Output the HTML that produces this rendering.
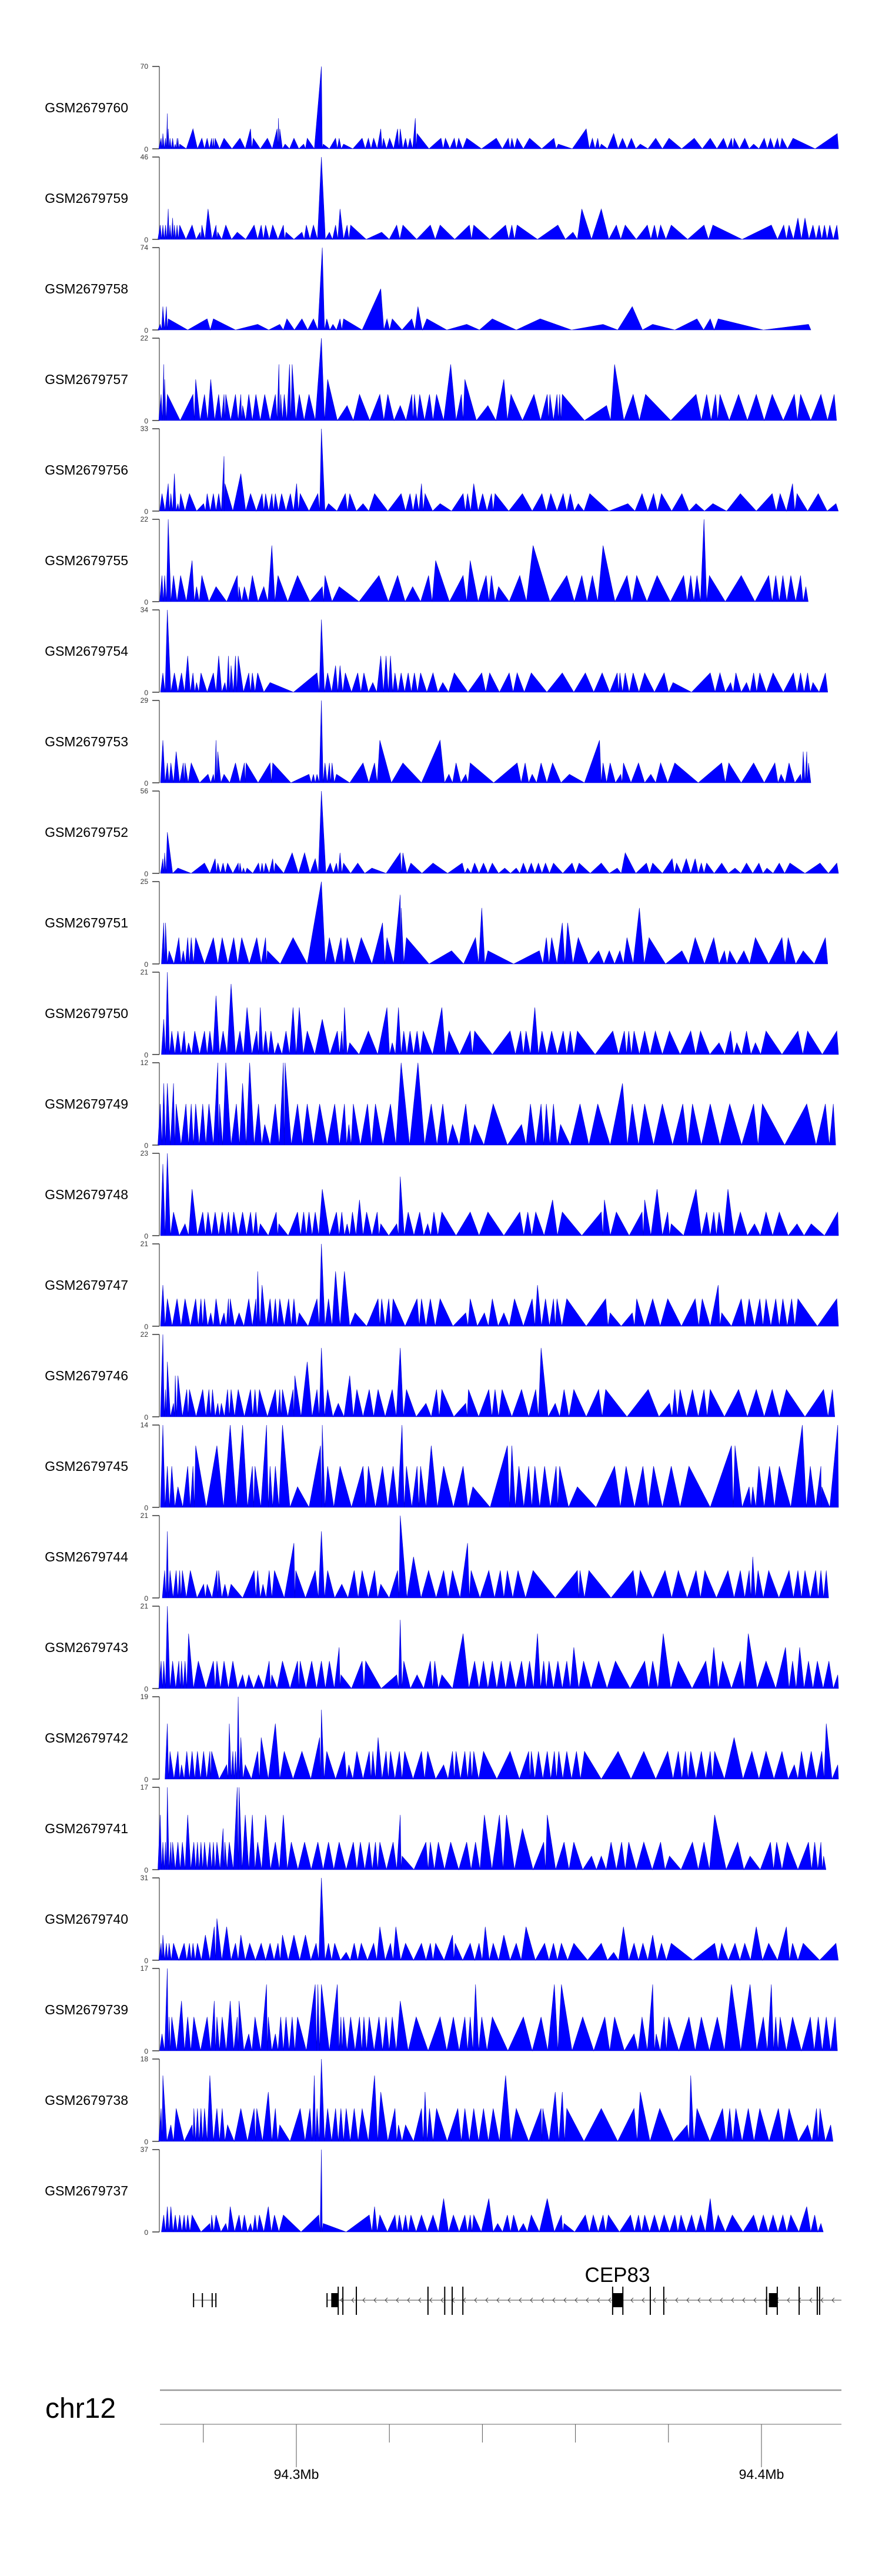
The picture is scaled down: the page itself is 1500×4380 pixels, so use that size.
<!DOCTYPE html>
<html><head><meta charset="utf-8"><style>
html,body{margin:0;padding:0;background:#fff;}
svg{display:block;font-family:"Liberation Sans",sans-serif;}
</style></head><body>
<svg id="chart" width="1500" height="4380" viewBox="0 0 1500 4380" xmlns="http://www.w3.org/2000/svg">
<rect x="0" y="0" width="1500" height="4380" fill="#fff"/>
<g id="tracks"></g>
<g id="gene"></g>
<g id="axis"></g>
</svg>
<script>
const sampleNames = ["GSM2679760","GSM2679759","GSM2679758","GSM2679757","GSM2679756","GSM2679755","GSM2679754","GSM2679753","GSM2679752","GSM2679751","GSM2679750","GSM2679749","GSM2679748","GSM2679747","GSM2679746","GSM2679745","GSM2679744","GSM2679743","GSM2679742","GSM2679741","GSM2679740","GSM2679739","GSM2679738","GSM2679737"];
const yMax = [70,46,74,22,33,22,34,29,56,25,21,12,23,21,22,14,21,21,19,17,31,17,18,37];
const t60=[[1.8,9],[2.2,13],[2.8,9],[3.2,30],[3.4,17],[3.8,9],[4.4,9],[5.0,4],[5.4,9],[5.6,9],[6.0,4],[9.0,17],[11.0,9],[12.2,9],[13.2,9],[13.6,9],[14.0,9],[16.0,9],[19.6,9],[22.0,17],[22.6,9],[25.8,9],[28.0,17],[28.3,26],[28.6,17],[29.8,4],[31.8,9],[34.0,4],[34.8,9],[38.0,70],[38.4,4],[41.2,9],[42.0,9],[43.0,4],[47.2,9],[48.6,9],[49.8,9],[51.4,17],[52.0,9],[53.4,9],[55.2,17],[55.8,17],[57.0,9],[58.0,9],[59.2,26],[59.6,13],[65.0,9],[66.0,9],[68.0,9],[69.0,9],[70.8,9],[77.5,9],[80.2,9],[81.0,9],[82.2,9],[85.0,9],[90.5,9],[91.5,4],[97.8,17],[99.2,9],[100.4,9],[101.2,4],[104.0,13],[106.0,9],[108.0,9],[110.0,4],[113.5,9],[116.5,9],[122.2,9],[125.8,9],[128.8,9],[130.6,9],[131.2,9],[133.6,9],[135.6,4],[138.0,9],[139.4,9],[141.0,9],[142.0,9],[144.5,9],[154.5,13]];
const t59=[[1.6,8],[2.2,8],[2.8,8],[3.4,17],[3.8,8],[4.4,12],[4.8,8],[5.4,8],[6.0,8],[8.8,8],[10.6,4],[11.0,8],[12.4,17],[14.2,8],[14.6,4],[16.4,8],[19.0,4],[22.8,8],[24.4,8],[25.4,8],[27.0,8],[29.4,8],[30.0,4],[33.6,4],[34.6,8],[36.2,8],[38.0,46],[39.8,4],[41.2,8],[42.2,17],[43.8,8],[44.6,8],[51.6,4],[55.0,8],[56.4,8],[62.6,8],[64.8,8],[71.4,8],[72.4,8],[79.6,8],[81.0,8],[82.2,8],[91.4,8],[94.8,4],[96.8,17],[101.2,17],[104.6,8],[106.6,8],[111.6,8],[113.2,8],[114.6,8],[117.0,8],[124.4,8],[126.4,8],[139.6,8],[142.4,8],[143.6,8],[145.6,12],[147.2,12],[149.0,8],[150.4,8],[151.6,8],[152.8,8],[154.4,8]];
const t58=[[1.6,5],[2.2,21],[3.0,21],[3.4,10],[12.2,10],[13.6,10],[23.6,5],[28.6,5],[30.2,10],[33.6,10],[36.2,10],[38.2,74],[39.2,10],[40.6,5],[42.2,10],[43.0,10],[51.4,37],[52.8,10],[54.0,10],[58.4,10],[59.8,21],[61.8,10],[70.8,5],[76.6,10],[87.4,10],[101.6,5],[108.2,21],[112.8,5],[122.8,10],[125.8,10],[127.6,10],[148.0,5]];
const t57=[[1.8,7],[2.4,15],[2.6,11],[3.2,7],[9.0,7],[9.6,11],[11.6,7],[13.0,11],[14.8,7],[16.0,7],[16.4,7],[18.6,7],[19.8,7],[20.2,4],[21.6,7],[23.2,7],[25.2,7],[27.6,7],[28.4,15],[28.8,7],[29.6,7],[30.8,15],[31.4,15],[33.0,7],[35.2,7],[38.0,22],[39.4,11],[43.8,4],[46.6,7],[51.2,7],[53.0,7],[55.8,4],[58.4,7],[59.0,7],[60.2,7],[62.4,7],[64.0,7],[67.2,15],[69.6,7],[70.4,11],[75.6,4],[79.2,11],[80.8,7],[86.0,7],[89.0,7],[89.6,7],[91.2,7],[91.8,7],[92.4,7],[102.4,4],[104.2,15],[108.4,7],[111.2,7],[122.6,7],[125.0,7],[127.0,7],[128.0,7],[132.2,7],[136.2,7],[139.8,7],[144.8,7],[146.2,7],[150.8,7],[153.8,7]];
const t56=[[2.0,7],[3.4,11],[4.0,7],[4.8,15],[5.6,3],[6.2,7],[8.2,7],[11.4,3],[12.2,7],[13.6,7],[14.8,7],[16.0,22],[16.2,11],[19.8,15],[22.0,7],[24.6,7],[25.4,7],[26.8,7],[27.6,7],[29.0,7],[31.0,7],[32.4,11],[33.2,7],[37.2,7],[38.0,33],[39.6,3],[43.4,7],[44.4,7],[47.4,3],[50.0,7],[56.0,7],[58.0,7],[59.4,7],[60.6,11],[61.4,7],[64.8,3],[70.0,7],[71.0,7],[72.4,11],[74.4,7],[76.4,7],[77.2,7],[83.4,7],[87.8,7],[89.8,7],[92.6,7],[94.2,7],[96.0,3],[98.6,7],[107.2,3],[110.4,7],[113.0,7],[114.8,7],[119.4,7],[122.6,3],[126.4,3],[132.6,7],[139.8,7],[141.6,7],[144.4,11],[145.4,7],[150.2,7],[154.2,3]];
const t55=[[2.0,7],[2.6,7],[3.4,22],[4.6,7],[6.2,7],[8.8,11],[9.8,4],[11.0,7],[14.2,4],[19.0,7],[19.4,4],[20.6,4],[22.4,7],[25.0,4],[26.8,15],[28.2,7],[32.6,7],[38.2,4],[38.8,7],[42.0,4],[51.0,7],[55.2,7],[58.6,4],[62.2,7],[63.8,11],[70.0,7],[71.6,11],[75.2,7],[76.4,7],[78.0,4],[82.8,7],[85.8,15],[93.4,7],[96.8,7],[99.2,7],[101.6,15],[107.0,7],[109.2,7],[113.8,7],[119.8,7],[121.4,7],[122.8,7],[124.4,22],[125.6,7],[132.8,7],[139.0,7],[140.6,7],[142.2,7],[144.0,7],[146.2,7],[147.4,4]];
const t54=[[2.2,8],[3.2,34],[4.8,8],[6.4,8],[7.8,15],[9.0,8],[9.8,4],[10.8,8],[13.6,8],[14.8,15],[16.2,4],[17.0,15],[17.6,11],[18.6,15],[19.2,15],[21.6,8],[22.4,8],[23.6,8],[26.4,4],[37.0,8],[38.0,30],[39.4,8],[41.2,11],[42.2,11],[43.4,8],[46.2,8],[47.6,8],[49.6,4],[51.4,15],[52.6,15],[53.6,15],[54.6,8],[56.0,8],[57.6,8],[59.0,8],[60.4,8],[63.2,8],[65.4,4],[68.0,8],[74.2,8],[76.0,8],[80.4,8],[82.2,8],[85.4,8],[92.4,8],[97.6,8],[101.4,8],[104.8,8],[105.4,8],[106.6,8],[108.4,8],[111.0,8],[115.4,8],[117.4,4],[125.8,8],[128.0,8],[130.4,4],[131.6,8],[134.0,4],[135.6,8],[137.0,8],[140.0,8],[144.6,8],[146.2,8],[147.8,8],[149.0,4],[151.8,8]];
const t53=[[2.2,15],[3.2,7],[4.0,7],[5.2,11],[6.8,7],[7.2,7],[8.6,7],[12.4,3],[13.6,3],[14.2,15],[14.6,11],[16.0,3],[18.6,7],[20.6,7],[21.0,7],[26.4,7],[27.0,7],[35.2,3],[36.2,3],[37.0,3],[38.0,29],[38.8,7],[39.8,7],[40.4,7],[41.4,3],[47.4,7],[50.0,7],[51.2,15],[56.4,7],[64.8,15],[66.8,3],[68.4,7],[70.6,3],[71.6,7],[82.2,7],[84.0,7],[85.6,3],[87.6,7],[90.2,7],[94.0,3],[100.8,15],[101.6,7],[103.2,7],[105.6,3],[106.2,7],[109.6,7],[112.4,3],[114.6,7],[117.8,7],[128.4,7],[130.0,7],[135.6,7],[140.4,7],[141.8,3],[143.6,7],[146.2,3],[146.8,11],[147.6,11],[148.0,7]];
const t52=[[2.2,10],[2.6,14],[3.2,28],[5.6,3.6],[11.6,7],[14.0,10],[14.6,7],[15.8,7],[16.8,7],[19.2,7],[19.6,7],[20.4,3.6],[21.2,3.6],[23.8,7],[24.6,7],[25.4,7],[27.0,10],[27.6,7],[31.4,14],[34.2,14],[36.6,10],[38.0,56],[40.0,7],[41.4,7],[42.2,14],[43.0,7],[46.2,7],[49.4,3.6],[55.8,14],[56.4,14],[58.2,7],[63.2,7],[69.8,7],[71.0,3.6],[72.6,7],[74.6,7],[76.6,7],[79.4,3.6],[82.0,3.6],[83.6,7],[85.4,7],[87.0,7],[88.6,7],[90.4,7],[94.6,7],[96.2,7],[101.2,7],[104.8,3.6],[106.6,14],[111.4,7],[112.8,7],[117.2,10],[118.2,7],[120.4,10],[122.4,10],[123.8,7],[125.0,7],[128.4,7],[131.4,3.6],[134.0,7],[136.8,7],[138.6,3.6],[141.4,7],[143.8,7],[150.6,7],[154.4,7]];
const t51=[[2.4,12.5],[2.8,12.5],[3.6,4],[5.8,8],[6.8,4],[7.8,8],[8.6,8],[9.6,8],[13.6,8],[15.6,8],[18.2,8],[20.0,8],[23.4,8],[25.4,8],[25.8,4],[31.6,8],[38.0,25],[39.8,8],[42.4,8],[43.8,8],[47.0,8],[51.8,12.5],[52.8,8],[55.8,21],[56.0,17],[57.2,8],[67.4,4],[72.8,8],[74.2,17],[75.6,4],[87.2,4],[88.8,8],[90.0,8],[92.4,12.5],[93.6,12.5],[96.0,8],[100.6,4],[103.0,4],[105.4,4],[107.0,8],[109.8,17],[112.0,8],[119.4,4],[122.4,8],[126.6,8],[129.0,4],[130.2,4],[133.4,4],[136.0,8],[142.0,8],[143.4,8],[146.8,4],[151.8,8]];
const t50=[[2.4,9],[3.2,21],[4.2,6],[5.6,6],[7.0,6],[8.0,3],[9.4,6],[11.6,6],[12.8,6],[14.2,15],[15.8,6],[17.6,18],[19.6,6],[21.2,12],[23.4,6],[24.2,12],[25.4,6],[26.6,6],[28.2,3],[30.0,6],[31.6,12],[33.0,12],[34.8,6],[38.2,9],[41.6,6],[42.6,6],[43.2,12],[44.4,3],[48.6,6],[52.8,12],[54.0,3],[55.4,12],[56.6,6],[58.0,6],[59.6,6],[61.0,6],[65.2,12],[66.8,6],[71.6,6],[72.6,6],[80.6,6],[83.0,6],[84.2,6],[86.2,12],[87.8,6],[90.0,6],[92.6,6],[94.2,6],[95.8,6],[103.8,6],[106.4,6],[107.4,6],[108.6,6],[111.0,6],[113.4,6],[116.6,6],[121.4,6],[123.6,6],[127.8,3],[130.4,6],[131.8,3],[134.0,6],[136.0,3],[138.4,6],[145.6,6],[147.8,6],[154.4,6]];
const t49=[[1.6,6],[2.4,9],[3.2,9],[4.6,9],[5.2,6],[7.4,6],[8.6,6],[9.6,6],[11.2,6],[12.6,6],[14.6,12],[15.0,6],[16.4,12],[18.8,6],[20.2,9],[21.8,12],[23.8,6],[25.2,3],[27.6,6],[29.4,12],[29.8,12],[32.6,6],[34.8,6],[37.6,6],[41.0,6],[43.2,6],[44.2,3],[45.2,6],[48.4,6],[50.2,6],[53.6,6],[56.0,12],[59.8,12],[62.8,6],[65.4,6],[67.6,3],[70.6,6],[72.6,3],[76.8,6],[83.2,3],[85.2,6],[87.6,6],[88.8,6],[90.4,6],[92.0,3],[96.4,6],[100.4,6],[106.0,9],[108.2,6],[111.0,6],[115.0,6],[119.6,6],[121.8,6],[125.8,6],[130.2,6],[135.6,6],[137.6,6],[147.6,6],[151.8,6],[153.6,6]];
const t48=[[2.2,20],[3.2,23],[4.6,6.6],[7.2,3.3],[8.8,13],[11.2,6.6],[12.4,6.6],[14.0,6.6],[15.6,6.6],[17.0,6.6],[18.2,6.6],[20.2,6.6],[22.0,6.6],[23.2,6.6],[24.2,3.3],[27.8,6.6],[28.4,3.3],[32.6,6.6],[34.0,6.6],[35.2,6.6],[36.6,6.6],[38.2,13],[41.4,6.6],[42.6,6.6],[43.8,3.3],[45.0,6.6],[46.6,10],[48.2,6.6],[50.6,6.6],[51.4,3.3],[55.0,3.3],[55.8,16.5],[57.6,6.6],[60.2,6.6],[62.0,3.3],[63.4,6.6],[65.2,6.6],[71.6,6.6],[75.6,6.6],[82.8,6.6],[84.6,6.6],[86.4,6.6],[90.2,10],[92.4,6.6],[101.2,6.6],[101.9,10],[104.6,6.6],[110.4,6.6],[111.0,10],[113.8,13],[116.2,6.6],[117.0,3.3],[122.6,13],[125.0,6.6],[126.6,6.6],[127.8,6.6],[129.8,13],[132.6,6.6],[135.8,3.3],[138.4,6.6],[141.4,6.6],[145.4,3.3],[148.6,3.3],[154.6,6.6]];
const t47=[[2.2,10.5],[3.2,7],[5.4,7],[7.2,7],[9.6,7],[10.8,7],[11.6,7],[13.0,3.4],[14.2,7],[16.0,3.4],[17.0,7],[17.4,7],[19.4,3.4],[21.6,7],[23.2,7],[23.6,14],[24.6,10.5],[26.4,7],[27.6,7],[28.6,7],[30.6,7],[31.8,7],[33.0,3.4],[37.0,7],[38.0,21],[39.6,7],[41.2,14],[43.2,14],[45.6,3.4],[50.8,7],[51.6,7],[53.2,7],[54.2,7],[59.6,7],[60.6,7],[62.6,7],[64.8,7],[70.6,3.4],[71.6,7],[74.8,3.4],[76.6,7],[79.2,3.4],[81.6,7],[85.6,7],[86.8,10.5],[88.6,7],[90.4,7],[91.2,7],[93.4,7],[102.2,7],[103.2,3.4],[108.2,3.4],[109.2,7],[112.8,7],[116.2,7],[122.4,7],[124.0,7],[127.6,10.5],[128.4,3.4],[132.8,7],[134.6,7],[137.0,7],[138.4,7],[140.6,7],[142.2,7],[144.2,7],[145.6,7],[154.4,7]];
const t46=[[2.2,22],[2.8,7.3],[3.2,14.7],[4.6,3.6],[5.0,11],[5.6,11],[7.6,7.3],[8.2,7.3],[11.2,7.3],[12.6,7.3],[13.4,7.3],[14.6,3.6],[15.4,3.6],[16.8,7.3],[17.6,7.3],[19.2,7.3],[22.0,7.3],[23.0,7.3],[24.0,7.3],[27.6,7.3],[28.6,7.3],[29.2,7.3],[31.6,7.3],[32.0,11],[34.8,14.7],[37.0,7.3],[38.0,18.4],[39.4,7.3],[41.8,3.6],[44.4,11],[46.0,7.3],[48.8,7.3],[50.8,7.3],[54.0,7.3],[55.8,18.4],[57.2,7.3],[61.6,3.6],[64.0,7.3],[65.2,7.3],[70.6,3.6],[71.2,7.3],[75.8,7.3],[77.2,7.3],[78.8,7.3],[83.2,7.3],[86.4,7.3],[87.6,18.4],[90.8,3.6],[92.8,7.3],[95.0,7.3],[100.6,7.3],[102.2,7.3],[111.8,7.3],[116.6,3.6],[117.8,7.3],[119.0,7.3],[121.8,7.3],[124.4,7.3],[125.8,7.3],[132.2,7.3],[136.2,7.3],[139.8,7.3],[143.0,7.3],[151.4,7.3],[153.4,7.3]];
const t45=[[2.2,14],[3.2,7],[4.2,7],[5.6,3.5],[7.8,7],[9.0,7],[9.6,10.5],[14.4,10.5],[17.4,14],[20.2,14],[22.4,7],[23.0,7],[25.6,14],[26.4,7],[27.6,7],[29.2,14],[32.6,3.5],[37.8,10.5],[38.2,14],[39.4,7],[42.2,7],[47.4,7],[48.6,7],[51.8,7],[54.2,7],[56.2,14],[57.2,7],[59.6,7],[60.4,7],[62.8,10.5],[65.6,7],[70.0,7],[72.2,3.5],[80.0,10.5],[81.0,10.5],[82.6,7],[84.8,7],[86.2,7],[88.4,7],[91.0,7],[91.8,7],[95.8,3.5],[104.2,7],[106.8,7],[110.6,7],[113.0,7],[117.0,7],[121.0,7],[130.6,10.5],[131.4,10.5],[134.6,3.5],[135.4,3.5],[136.8,7],[139.2,7],[141.4,7],[146.6,14],[148.4,7],[150.8,7],[151.0,3.5],[154.6,14]];
const t44=[[2.6,7],[3.2,17],[3.8,7],[5.2,7],[6.0,7],[6.6,7],[8.4,7],[11.4,3.5],[12.2,3.5],[14.4,7],[14.8,7],[16.2,3.5],[17.6,3.5],[22.8,7],[23.6,7],[24.8,3.5],[26.2,7],[27.4,7],[31.8,14],[32.2,7],[36.6,7],[38.0,17],[39.4,7],[42.6,3.5],[45.4,7],[47.2,7],[50.0,7],[51.4,3.5],[55.2,7],[55.8,21],[58.8,10.5],[62.2,7],[65.6,7],[67.6,7],[71.0,14],[71.8,7],[75.8,7],[78.4,7],[80.0,7],[82.4,7],[85.8,7],[95.8,7],[96.4,7],[98.4,7],[108.4,7],[110.0,7],[115.6,7],[118.6,7],[122.6,7],[124.6,7],[129.8,7],[132.6,7],[134.6,7],[135.4,10.5],[136.6,7],[139.0,7],[143.6,7],[145.6,7],[147.2,7],[149.6,7],[150.8,7],[152.0,7]];
const t43=[[1.8,7],[2.4,7],[3.2,21],[4.4,7],[5.8,7],[6.4,7],[7.2,7],[8.0,14],[10.2,7],[13.6,7],[14.4,7],[16.0,7],[18.0,7],[20.2,3.5],[21.6,3.5],[23.8,3.5],[26.2,7],[26.8,3.5],[29.2,7],[32.6,7],[33.2,7],[35.8,7],[38.0,7],[39.8,7],[42.0,10.5],[42.4,3.5],[47.2,7],[48.0,7],[55.0,3.5],[55.8,17.5],[56.6,7],[59.6,3.5],[62.6,7],[63.6,7],[65.2,3.5],[70.0,14],[72.6,7],[74.6,7],[76.6,7],[78.6,7],[80.6,7],[83.2,7],[85.0,7],[86.8,14],[88.2,7],[89.4,7],[91.4,7],[93.4,7],[95.0,10.5],[97.2,7],[100.6,7],[104.4,7],[111.0,7],[112.8,7],[115.2,14],[118.6,7],[124.8,7],[126.6,10.5],[128.6,7],[132.6,7],[134.4,14],[138.4,7],[142.8,10.5],[144.4,7],[146.0,10.5],[148.0,7],[150.0,7],[152.6,7],[154.6,3.5]];
const t42=[[3.2,12.8],[3.8,6.4],[5.6,6.4],[6.4,3.3],[7.6,6.4],[8.8,6.4],[10.0,6.4],[11.4,6.4],[12.8,6.4],[13.2,6.4],[16.6,3.3],[17.2,12.8],[18.0,6.4],[18.6,6.4],[19.2,19],[19.8,9.6],[20.8,3.3],[23.6,6.4],[24.4,9.6],[27.6,12.8],[29.6,6.4],[33.6,6.4],[37.6,9.6],[38.0,16],[39.2,6.4],[43.2,6.4],[44.2,3.3],[46.0,6.4],[48.8,6.4],[49.6,6.4],[50.8,9.6],[52.6,6.4],[53.6,6.4],[55.6,6.4],[56.8,6.4],[60.6,6.4],[62.0,6.4],[65.6,3.3],[67.6,6.4],[68.4,6.4],[70.4,6.4],[71.6,6.4],[72.4,6.4],[74.6,6.4],[80.6,6.4],[84.8,6.4],[85.4,6.4],[87.0,6.4],[89.0,6.4],[90.6,6.4],[91.6,6.4],[93.4,6.4],[95.6,6.4],[97.4,6.4],[105.0,6.4],[110.8,6.4],[116.2,6.4],[118.6,6.4],[120.2,6.4],[121.4,6.4],[123.8,6.4],[125.8,6.4],[126.8,6.4],[131.2,9.6],[135.2,6.4],[138.4,6.4],[142.0,6.4],[144.8,3.3],[146.4,6.4],[148.6,6.4],[151.0,6.4],[152.0,12.8],[154.6,3.3]];
const t41=[[1.6,11.3],[2.2,5.7],[2.8,5.7],[3.2,17],[4.0,5.7],[4.4,5.7],[5.6,5.7],[6.6,5.7],[7.8,11.3],[9.2,5.7],[10.0,5.7],[10.8,5.7],[11.6,5.7],[12.8,5.7],[13.6,5.7],[14.4,5.7],[15.8,8.5],[16.2,5.7],[17.2,5.7],[19.0,17],[19.4,17],[20.8,11.3],[22.4,11.3],[23.6,5.7],[25.4,11.3],[27.6,5.7],[29.4,11.3],[31.2,5.7],[34.2,5.7],[37.2,5.7],[39.6,5.7],[42.0,5.7],[45.2,5.7],[46.8,5.7],[48.8,5.7],[50.2,5.7],[51.2,5.7],[54.2,5.7],[55.8,11.3],[56.2,2.8],[61.6,5.7],[62.6,5.7],[64.4,5.7],[67.2,5.7],[70.8,5.7],[72.8,5.7],[74.8,11.3],[78.2,11.3],[79.8,11.3],[83.4,8.5],[88.2,5.7],[89.0,11.3],[92.8,5.7],[95.0,5.7],[99.0,2.8],[101.2,2.8],[103.4,5.7],[105.8,5.7],[107.4,5.7],[110.8,5.7],[114.6,5.7],[116.6,2.8],[121.8,5.7],[124.4,5.7],[126.8,11.3],[132.0,5.7],[134.8,2.8],[139.4,5.7],[140.8,5.7],[143.2,5.7],[148.0,5.7],[149.4,5.7],[150.8,5.7],[151.4,2.8]];
const t40=[[1.8,6.4],[2.2,9.5],[3.0,6.4],[3.6,6.4],[4.6,6.4],[7.0,6.4],[8.2,6.4],[9.0,6.4],[10.0,6.4],[11.8,9.5],[13.8,12.6],[14.4,15.7],[16.6,12.6],[18.6,6.4],[19.8,9.5],[21.8,6.4],[24.4,6.4],[26.4,6.4],[28.2,6.4],[29.2,9.5],[31.8,9.5],[34.4,9.5],[36.8,6.4],[38.0,31],[39.6,6.4],[41.0,6.4],[43.6,3],[45.4,6.4],[47.0,6.4],[49.8,6.4],[51.2,12.6],[53.6,6.4],[54.8,12.6],[57.0,6.4],[60.6,6.4],[62.6,6.4],[63.8,6.4],[67.6,9.5],[68.2,6.4],[71.6,6.4],[73.6,6.4],[75.0,12.6],[76.8,6.4],[79.2,9.5],[82.0,6.4],[84.2,12.6],[88.4,6.4],[90.4,6.4],[92.2,6.4],[95.0,6.4],[101.2,6.4],[104.0,3],[106.2,12.6],[108.6,6.4],[110.6,6.4],[112.8,9.5],[114.8,6.4],[117.0,6.4],[126.8,6.4],[128.4,6.4],[131.4,6.4],[133.6,6.4],[136.2,12.6],[139.0,6.4],[143.0,12.6],[144.4,6.4],[146.8,6.4],[154.2,6.4]];
const t39=[[2.0,3.5],[3.2,17],[3.6,7],[4.2,7],[6.4,10.3],[7.8,7],[9.2,7],[12.2,7],[13.8,10.3],[14.4,7],[15.6,7],[17.4,10.3],[19.0,7],[19.4,10.3],[21.6,3.5],[23.0,7],[25.6,13.7],[26.0,7],[27.6,3.5],[28.8,7],[30.0,7],[31.4,7],[32.6,7],[36.6,13.7],[37.2,13.7],[38.0,13.7],[41.6,13.7],[42.4,7],[43.0,7],[44.6,7],[46.6,7],[47.6,7],[48.8,7],[51.0,7],[52.6,7],[54.0,7],[55.8,10.3],[59.4,7],[64.8,7],[67.8,7],[70.4,7],[71.6,7],[72.8,13.7],[74.2,7],[76.6,7],[83.6,7],[87.6,7],[90.6,13.7],[92.2,13.7],[97.0,7],[102.0,7],[104.2,7],[108.6,3.5],[110.4,7],[112.8,13.7],[113.6,3.5],[115.4,7],[116.4,7],[121.0,7],[123.8,7],[127.4,7],[130.6,13.7],[134.8,13.7],[137.8,7],[139.6,13.7],[140.6,7],[141.6,7],[144.4,7],[148.4,7],[150.2,7],[152.0,7],[154.0,7]];
const t38=[[1.8,7.2],[2.2,14.4],[4.0,3.6],[5.2,7.2],[8.8,3.6],[9.2,7.2],[10.0,7.2],[10.8,7.2],[11.6,7.2],[12.8,14.4],[14.4,7.2],[15.6,7.2],[16.8,3.6],[19.8,7.2],[22.8,7.2],[23.4,7.2],[26.0,10.8],[27.6,7.2],[28.6,3.6],[33.2,7.2],[35.4,7.2],[36.4,14.4],[37.0,7.2],[38.0,18],[39.4,7.2],[41.2,7.2],[42.4,7.2],[43.6,7.2],[45.4,7.2],[47.2,7.2],[50.0,14.4],[51.4,10.8],[54.6,7.2],[55.4,3.6],[57.0,3.6],[60.6,7.2],[61.4,10.8],[62.4,7.2],[64.0,7.2],[68.8,7.2],[70.4,7.2],[72.4,7.2],[74.6,7.2],[76.8,7.2],[79.6,14.4],[82.0,7.2],[87.6,7.2],[88.0,7.2],[90.8,10.8],[92.4,10.8],[93.4,7.2],[101.2,7.2],[108.6,7.2],[110.0,10.8],[114.4,7.2],[120.6,3.6],[121.4,14.4],[122.8,7.2],[128.6,7.2],[130.2,7.2],[131.6,7.2],[134.4,7.2],[137.0,7.2],[141.2,7.2],[143.6,7.2],[147.8,3.6],[149.8,7.2],[150.6,7.2],[153.0,3.6]];
const t37=[[2.4,7.6],[3.2,11.4],[4.0,11.4],[5.0,7.6],[6.0,7.6],[7.0,7.6],[7.8,7.6],[8.8,7.6],[12.8,3.8],[13.2,7.6],[14.2,7.6],[16.4,3.8],[17.4,11.4],[19.4,7.6],[20.6,7.6],[22.0,3.8],[23.0,7.6],[24.0,7.6],[26.0,11.4],[27.4,7.6],[29.4,7.6],[37.4,7.6],[38.0,37],[38.4,3.8],[48.8,7.6],[50.0,11.4],[51.2,7.6],[54.6,7.6],[55.6,7.6],[57.0,7.6],[58.2,7.6],[60.6,7.6],[63.2,7.6],[65.6,15],[67.8,7.6],[70.4,7.6],[71.6,7.6],[72.4,7.6],[75.8,15],[77.8,3.8],[80.0,7.6],[81.4,7.6],[83.6,3.8],[85.4,7.6],[89.0,15],[92.2,7.6],[92.8,3.8],[97.6,7.6],[99.4,7.6],[101.6,7.6],[102.8,7.6],[107.8,7.6],[109.6,7.6],[111.0,7.6],[113.2,7.6],[115.4,7.6],[117.8,7.6],[119.2,7.6],[121.6,7.6],[123.6,7.6],[125.8,15],[127.6,7.6],[130.8,7.6],[135.6,7.6],[137.8,7.6],[140.0,7.6],[142.2,7.6],[144.0,7.6],[147.6,11.4],[149.4,7.6],[150.8,3.8]];
const trackData = [t60,t59,t58,t57,t56,t55,t54,t53,t52,t51,t50,t49,t48,t47,t46,t45,t44,t43,t42,t41,t40,t39,t38,t37];
const exonPosKb = [94277.9,94279.8,94281.9,94282.7,94306.6,94309.0,94310.0,94312.9,94328.3,94331.9,94333.5,94335.8,94368.0,94370.2,94376.1,94379.0,94401.1,94403.4,94408.1,94412.0,94412.5];
const exonTall = [0,0,0,0,0,1,1,1,1,1,1,1,1,1,1,1,1,1,1,1,1];
const thickExonsKb = [[94307.5,94308.9],[94368.0,94370.2],[94401.6,94403.4]];
const axisTicksKb = [94280,94300,94320,94340,94360,94380,94400];
const axisLabels = {94300:"94.3Mb",94400:"94.4Mb"};
</script>
<script>
const NS="http://www.w3.org/2000/svg";
const X0=271, X1=1424, D0=1.4, D1=154.5;
const xs = p => X0 + (p-D0)/(D1-D0)*(X1-X0);
const gx = kb => 504 + (kb-94300)*7.91;
function mk(tag, attrs, parent){const e=document.createElementNS(NS,tag);for(const k in attrs)e.setAttribute(k,attrs[k]);parent.appendChild(e);return e;}
const tracksG=document.getElementById('tracks');
for(let i=0;i<trackData.length;i++){
  const top=113+i*154, base=253+i*154, h=base-top, mx=yMax[i];
  const ys=v=>base - v/mx*h;
  const g=mk('g',{},tracksG);
  
  
  const lab=mk('text',{x:218,y:(top+base)/2+8,'text-anchor':'end','font-size':23,fill:'#000'},g);
  
  
  lab.textContent=sampleNames[i];
  const ax=mk('line',{x1:X0,y1:top,x2:X0,y2:base,stroke:'#8c8c8c','stroke-width':2},g);
  
  
  mk('line',{x1:259,y1:top,x2:X0,y2:top,stroke:'#333','stroke-width':1.5},g);
  mk('line',{x1:259,y1:base,x2:X0,y2:base,stroke:'#333','stroke-width':1.5},g);
  const tMax=mk('text',{x:252,y:top+4,'text-anchor':'end','font-size':12,fill:'#333'},g);
  
  
  tMax.textContent=mx;
  const t0=mk('text',{x:252,y:base+5,'text-anchor':'end','font-size':12,fill:'#333'},g);
  
  
  t0.textContent='0';
  const d=trackData[i].slice().sort((a,b)=>a[0]-b[0]);
  let pts=[[xs(d[0][0])-4,base]];
  for(let j=0;j<d.length;j++){
    pts.push([xs(d[j][0]),ys(d[j][1])]);
    if(j<d.length-1){const m=(d[j][0]+d[j+1][0])/2;pts.push([xs(m),base]);}
  }
  pts.push([Math.min(xs(d[d.length-1][0])+4,X1+2),base]);
  const poly=mk('polygon',{points:pts.map(p=>p[0].toFixed(1)+','+p[1].toFixed(1)).join(' '),fill:'#0000ff',stroke:'#0000cc','stroke-width':0.6},g);
  
  
}
// gene model
const geneG=document.getElementById('gene');
const gy=3911;
const gl=mk('line',{x1:556,y1:gy,x2:1431,y2:gy,stroke:'#444','stroke-width':1},geneG);


for(let x=580;x<1431;x+=19){
  const c=mk('polyline',{points:(x+3)+','+(gy-4)+' '+(x-1)+','+gy+' '+(x+3)+','+(gy+4),fill:'none',stroke:'#444','stroke-width':1},geneG);
  
  
}
mk('line',{x1:329,y1:gy,x2:368,y2:gy,stroke:'#444','stroke-width':1},geneG);
for(let k=0;k<exonPosKb.length;k++){
  const x=gx(exonPosKb[k]);
  const e=mk('rect',{x:x-1,y:exonTall[k]?3888:3899,width:2,height:exonTall[k]?48:24,fill:'#000'},geneG);
  
  
}
for(const [a,b] of thickExonsKb){
  const e=mk('rect',{x:gx(a),y:3899,width:gx(b)-gx(a),height:24,fill:'#000'},geneG);
  
  
}
const gn=mk('text',{x:1050,y:3880,'text-anchor':'middle','font-size':35,fill:'#000'},geneG);


gn.textContent='CEP83';
// axis
const axG=document.getElementById('axis');
const chr=mk('text',{x:77,y:4111,'font-size':48,fill:'#000'},axG);


chr.textContent='chr12';
mk('line',{x1:272,y1:4064,x2:1431,y2:4064,stroke:'#999','stroke-width':2.5},axG);
mk('line',{x1:272,y1:4122,x2:1431,y2:4122,stroke:'#999','stroke-width':1.5},axG);
for(const kb of axisTicksKb){
  const x=gx(kb);
  const big=axisLabels[kb]!==undefined;
  const t=mk('line',{x1:x,y1:4122,x2:x,y2:big?4195:4153,stroke:'#555','stroke-width':1},axG);
  
  
  if(big){
    const l=mk('text',{x:x,y:4215,'text-anchor':'middle','font-size':23,fill:'#000'},axG);
    
    
    l.textContent=axisLabels[kb];
  }
}
</script>
</body></html>
